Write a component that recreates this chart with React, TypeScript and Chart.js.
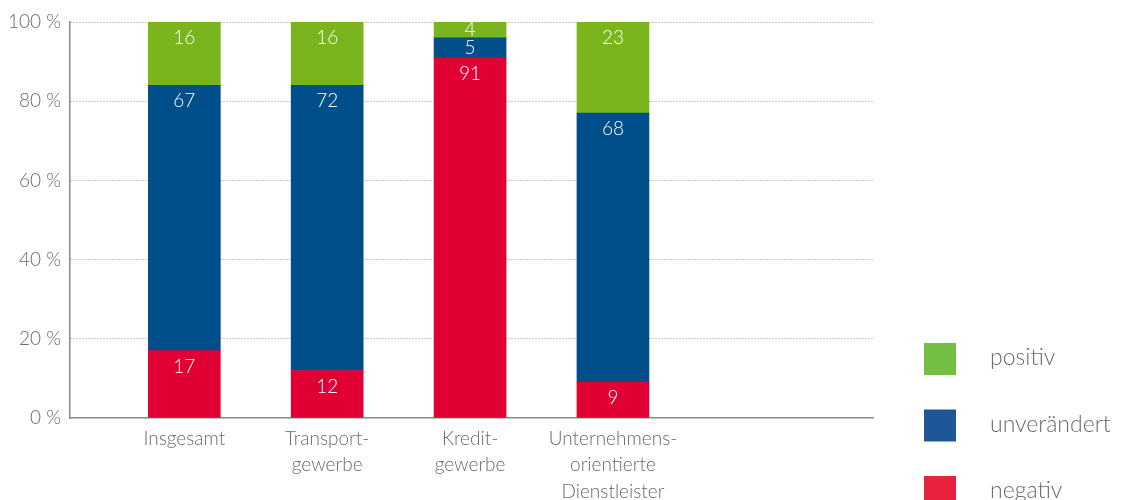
import React, { useEffect, useRef } from "react";
import { Chart, registerables } from "chart.js";

Chart.register(...registerables);

const categories: (string | string[])[] = [
  "Insgesamt",
  ["Transport-", "gewerbe"],
  ["Kredit-", "gewerbe"],
  ["Unternehmens-", "orientierte", "Dienstleister"],
];
const seriesNames = ["negativ", "unverändert", "positiv"];
const negativ = [17, 12, 91, 9];
const unveraendert = [67, 72, 5, 68];
const positiv = [16, 16, 4, 23];
const yTicks = [0, 20, 40, 60, 80, 100];

const barColors = ["#E10034", "#004F8B", "#7AB51E"];
const legendColors = ["#E8213D", "#1F5697", "#73BF44"];
const FONT = "Lato, 'Open Sans', 'DejaVu Sans', sans-serif";

const labelPlugin = {
  id: "segLabels",
  afterDatasetsDraw(chart: any) {
    const ctx = chart.ctx;
    ctx.save();
    ctx.fillStyle = "#ffffff";
    ctx.font = `300 19px ${FONT}`;
    ctx.textAlign = "center";
    ctx.textBaseline = "middle";
    chart.data.datasets.forEach((ds: any, di: number) => {
      const meta = chart.getDatasetMeta(di);
      meta.data.forEach((el: any, i: number) => {
        const v = ds.data[i].y;
        const top = Math.min(el.y, el.base);
        const h = Math.abs(el.base - el.y);
        const cy = top + Math.min(16, h / 2);
        ctx.fillText(String(v), el.x, cy);
      });
    });
    ctx.restore();
  },
};

const legendPlugin = {
  id: "customLegend",
  afterDraw(chart: any) {
    const ctx = chart.ctx;
    ctx.save();
    const order = [2, 1, 0];
    order.forEach((di, k) => {
      const y = 343 + k * 66.5;
      ctx.fillStyle = legendColors[di];
      ctx.fillRect(924, y, 32, 32);
      ctx.fillStyle = "#6a6a6a";
      ctx.font = `300 23px ${FONT}`;
      ctx.textBaseline = "middle";
      ctx.textAlign = "left";
      ctx.fillText(chart.data.datasets[di].label, 990, y + 15);
    });
    ctx.restore();
  },
};

export default function App() {
  const ref = useRef<HTMLCanvasElement>(null);
  useEffect(() => {
    const series = [negativ, unveraendert, positiv];
    const chart = new Chart(ref.current!, {
      type: "bar",
      data: {
        datasets: series.map((s, di) => ({
          label: seriesNames[di],
          data: s.map((v, i) => ({ x: i, y: v })),
          backgroundColor: barColors[di],
          borderWidth: 0,
          barThickness: 72,
        })),
      },
      options: {
        animation: false,
        responsive: true,
        maintainAspectRatio: false,
        layout: { padding: { top: 22, right: 251, left: 0, bottom: 0 } },
        plugins: { legend: { display: false }, tooltip: { enabled: false } },
        scales: {
          x: {
            type: "linear",
            stacked: true,
            offset: false,
            min: -0.8,
            max: 4.82,
            afterBuildTicks: (scale: any) => {
              scale.ticks = categories.map((_, i) => ({ value: i }));
            },
            afterFit: (scale: any) => {
              scale.height = 82;
            },
            grid: { display: false, drawTicks: false, offset: false },
            border: { display: true, color: "#8a8a8a", width: 1.5 },
            ticks: {
              autoSkip: false,
              maxRotation: 0,
              padding: 8,
              color: "#6a6a6a",
              font: { family: FONT, size: 19, weight: "300", lineHeight: 1.38 },
              callback: (v: any) => categories[v as number] ?? "",
            },
          },
          y: {
            stacked: true,
            min: 0,
            max: 100,
            afterBuildTicks: (scale: any) => {
              scale.ticks = yTicks.map((v) => ({ value: v }));
            },
            afterFit: (scale: any) => {
              scale.width = 70;
            },
            grid: {
              drawTicks: false,
              color: (c: any) => (c.tick && c.tick.value === 0 ? "rgba(0,0,0,0)" : "#8c8c8c"),
              lineWidth: 1,
            },
            border: { display: true, color: "#8a8a8a", width: 1.5, dash: [1, 2] },
            ticks: {
              padding: 9,
              color: "#6a6a6a",
              font: { family: FONT, size: 19, weight: "300" },
              callback: (v: any) => `${v} %`,
            },
          },
        },
      },
      plugins: [labelPlugin, legendPlugin],
    } as any);
    return () => chart.destroy();
  }, []);
  return (
    <div style={{ position: "fixed", left: 0, top: 0, width: 1124, height: 500, background: "#fff" }}>
      <canvas ref={ref} />
    </div>
  );
}
